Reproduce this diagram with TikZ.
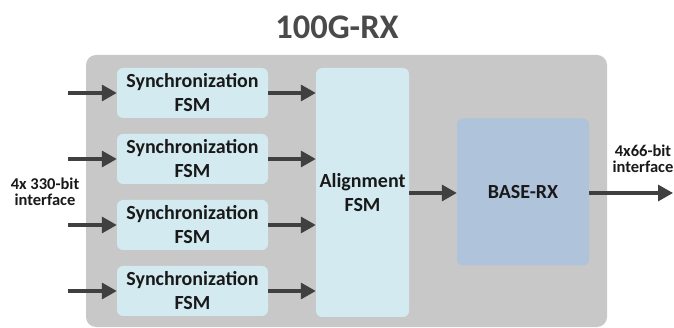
\documentclass[tikz,border=0pt]{standalone}
\usepackage{fontspec}
\setmainfont{Carlito}
\usetikzlibrary{arrows.meta}
\definecolor{outerbg}{HTML}{C8C8C8}
\definecolor{syncfill}{HTML}{D3EAF0}
\definecolor{basefill}{HTML}{AFC3DB}
\definecolor{arrowcol}{HTML}{404040}
\definecolor{titlecol}{HTML}{4A4A4A}
\begin{document}
\begin{tikzpicture}[x=1pt,y=-1pt,
  blockbox/.style={fill=syncfill, rounded corners=6pt, draw=none, inner sep=0pt, font=\fontsize{20}{24}\selectfont\bfseries, align=center, text=black!90},
  sig/.style={draw=arrowcol, line width=3.3pt, -{Triangle[length=15pt,width=16pt]}, arrowcol},
  lbl/.style={font=\fontsize{16.5}{15.5}\selectfont\bfseries, align=center, text=black!90}
]
\useasboundingbox (0,0) rectangle (674,328);
\node[font=\fontsize{34.5}{38}\selectfont\bfseries, text=titlecol] (title) at (337,27) {100G-RX};
\fill[outerbg, rounded corners=10pt] (86,55) rectangle (607,327);

\foreach \i/\yc in {1/93,2/159,3/225,4/291}{
  \node[blockbox, minimum width=151pt, minimum height=50pt] (s\i) at (192.5,\yc) {Synchronization\\FSM};
  \coordinate (in\i) at (68,\yc);
}
\node[blockbox, minimum width=93pt, minimum height=249pt] (align) at (362.5,192.5) {Alignment\\FSM};
\node[blockbox, fill=basefill, minimum width=132pt, minimum height=147pt] (base) at (523,192) {BASE-RX};
\coordinate (out) at (673,193);

\foreach \i in {1,...,4}{
  \draw[sig] (in\i) -- (s\i.west);
  \draw[sig] (s\i.east) -- (s\i.east -| align.west);
}
\draw[sig] (align.east |- 0,193) -- (base.west |- 0,193);
\draw[sig] (base.east |- out) -- (out);

\node[lbl] (inlbl) at (45,192) {4x 330-bit\\interface};
\node[lbl] (outlbl) at (643,159) {4x66-bit\\interface};
\end{tikzpicture}
\end{document}
